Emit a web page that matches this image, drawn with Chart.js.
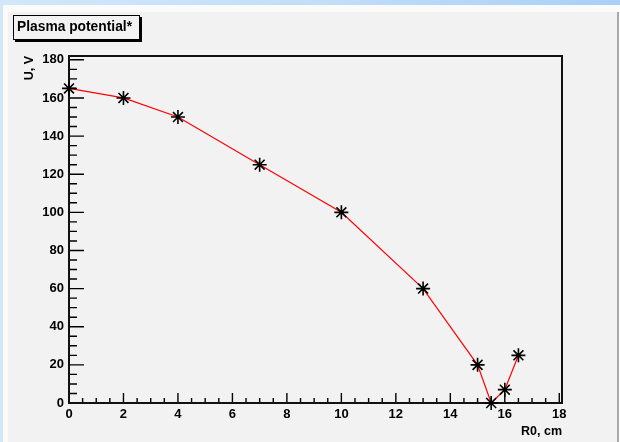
<!DOCTYPE html>
<html>
<head>
<meta charset="utf-8">
<script src="https://cdn.jsdelivr.net/npm/chart.js@4.4.1/dist/chart.umd.min.js"></script>
<style>
html,body{margin:0;padding:0;width:620px;height:442px;overflow:hidden;}
body{position:relative;background:linear-gradient(90deg,#d3e7fb 0%,#c2def9 50%,#aacff5 100%);font-family:"Liberation Sans",Arial,sans-serif;}
#white{position:absolute;left:3px;top:5px;right:0;bottom:0;background:#fbfbfb;}
#panel{position:absolute;left:8px;top:12px;width:609px;bottom:0;background:#f2f2f2;border-right:2px solid #a9a9a9;}
#wrap{position:absolute;left:0;top:0;width:620px;height:442px;}
#title{position:absolute;left:13px;top:15px;width:127px;height:25px;box-sizing:border-box;border:1.5px solid #000;box-shadow:2px 2px 0 #000;background:#f2f2f2;font:bold 13.8px "Liberation Sans",Arial,sans-serif;line-height:22px;padding-left:3px;color:#000;white-space:nowrap;}
</style>
</head>
<body>
<div id="white"></div>
<div id="panel"></div>
<div id="wrap"><canvas id="c" width="620" height="442"></canvas></div>
<div id="title">Plasma potential*</div>
<script>
// ---- data ----
const R0_CM = [0, 2, 4, 7, 10, 13, 15, 15.5, 16, 16.5];
const U_V   = [165, 160, 150, 125, 100, 60, 20, 0, 7, 25];
const X_TICKS = [0, 2, 4, 6, 8, 10, 12, 14, 16, 18];
const Y_TICKS = [0, 20, 40, 60, 80, 100, 120, 140, 160, 180];
const X_MIN = 0, X_MAX = 18.1;
const Y_MIN = 0, Y_MAX = 182;
const X_MINOR = 0.5, Y_MINOR = 5;

const FONT = "'Liberation Sans', Arial, sans-serif";
const points = R0_CM.map((x, i) => ({x: x, y: U_V[i]}));

const frameTicks = {
  id: 'frameTicks',
  beforeDatasetsDraw(chart) {
    const {ctx, chartArea: a, scales: {x, y}} = chart;
    ctx.save();
    ctx.strokeStyle = '#000';
    ctx.lineWidth = 1.4;
    ctx.beginPath();
    const nx = Math.round((X_TICKS[X_TICKS.length - 1] - X_MIN) / X_MINOR);
    for (let i = 0; i <= nx; i++) {
      const v = X_MIN + i * X_MINOR;
      const px = x.getPixelForValue(v);
      const major = X_TICKS.indexOf(v) >= 0;
      ctx.moveTo(px, a.bottom);
      ctx.lineTo(px, a.bottom - (major ? 10 : 5));
    }
    const ny = Math.round((Y_TICKS[Y_TICKS.length - 1] - Y_MIN) / Y_MINOR);
    for (let i = 0; i <= ny; i++) {
      const v = Y_MIN + i * Y_MINOR;
      const py = y.getPixelForValue(v);
      const major = Y_TICKS.indexOf(v) >= 0;
      ctx.moveTo(a.left, py);
      ctx.lineTo(a.left + (major ? 15 : 8), py);
    }
    ctx.stroke();
    ctx.lineWidth = 2;
    ctx.strokeStyle = '#111';
    ctx.strokeRect(a.left, a.top, a.right - a.left, a.bottom - a.top);
    ctx.restore();
  }
};

new Chart(document.getElementById('c'), {
  type: 'scatter',
  data: {
    datasets: [
      {
        data: points,
        showLine: false,
        pointStyle: 'circle',
        pointRadius: 2,
        pointBackgroundColor: '#000',
        pointBorderColor: '#000',
        pointBorderWidth: 0,
        clip: false
      },
      {
        data: points,
        showLine: true,
        borderColor: '#ff0000',
        borderWidth: 1.2,
        tension: 0,
        pointStyle: 'star',
        pointRadius: 7,
        pointBorderColor: '#000',
        pointBackgroundColor: '#000',
        pointBorderWidth: 1.6,
        clip: false
      }
    ]
  },
  options: {
    responsive: false,
    animation: false,
    devicePixelRatio: 1,
    layout: {padding: {left: 18, top: 56, right: 58, bottom: 0}},
    plugins: {legend: {display: false}, tooltip: {enabled: false}, title: {display: false}},
    scales: {
      x: {
        type: 'linear', position: 'bottom', min: X_MIN, max: X_MAX,
        afterBuildTicks: s => { s.ticks = X_TICKS.map(v => ({value: v})); },
        afterFit: s => { s.height = 39; },
        grid: {display: false, drawTicks: false},
        border: {display: false},
        ticks: {padding: 4, color: '#000', autoSkip: false, maxRotation: 0,
                font: {family: FONT, size: 13, weight: 'bold'}},
        title: {display: true, text: 'R0, cm', align: 'end', color: '#000',
                font: {family: FONT, size: 12.5, weight: 'bold'}, padding: {top: 0, bottom: 3}}
      },
      y: {
        type: 'linear', position: 'left', min: Y_MIN, max: Y_MAX,
        afterBuildTicks: s => { s.ticks = Y_TICKS.map(v => ({value: v})); },
        afterFit: s => { s.width = 51; },
        grid: {display: false, drawTicks: false},
        border: {display: false},
        ticks: {padding: 5, color: '#000', autoSkip: false,
                font: {family: FONT, size: 13, weight: 'bold'}},
        title: {display: true, text: 'U, V', align: 'end', color: '#000',
                font: {family: FONT, size: 12.5, weight: 'bold'}, padding: {top: 4, bottom: 4}}
      }
    }
  },
  plugins: [frameTicks]
});
</script>
</body>
</html>
